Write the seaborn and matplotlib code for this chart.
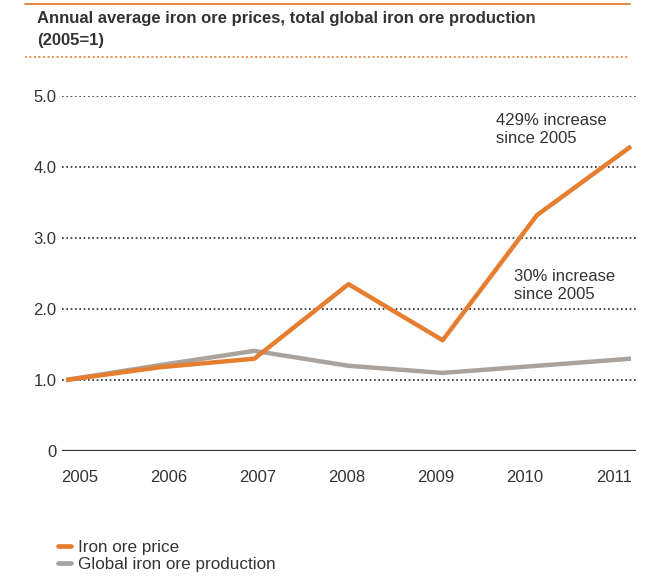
import matplotlib
matplotlib.use("Agg")
import matplotlib.pyplot as plt
import seaborn as sns
import pandas as pd
import numpy as np
from matplotlib.lines import Line2D

years = [2005, 2006, 2007, 2008, 2009, 2010, 2011]
iron_ore_price = [1.0, 1.18, 1.30, 2.35, 1.56, 3.32, 4.29]
global_production = [1.0, 1.21, 1.41, 1.20, 1.10, 1.20, 1.30]
y_ticks = [0, 1, 2, 3, 4, 5]
y_tick_labels = ["0", "1.0", "2.0", "3.0", "4.0", "5.0"]
series_names = ["Iron ore price", "Global iron ore production"]

ORANGE = "#E67E30"
GREY = "#A9A29D"
TEXT = "#333333"

sns.set_theme(style="white")
plt.rcParams["font.family"] = ["Liberation Sans", "DejaVu Sans"]

df = pd.DataFrame({
    "year": years * 2,
    "value": global_production + iron_ore_price,
    "series": [series_names[1]] * len(years) + [series_names[0]] * len(years),
})

fig = plt.figure(figsize=(6.58, 5.76), dpi=100)
ax = fig.add_axes([62 / 658, 1 - 451 / 576, (636 - 62) / 658, (451 - 96) / 576])

sns.lineplot(data=df, x="year", y="value", hue="series",
             palette={series_names[0]: ORANGE, series_names[1]: GREY},
             hue_order=[series_names[1], series_names[0]],
             linewidth=3.2, ax=ax, legend=False, solid_capstyle="butt")

x0, x1 = 2005 - 4 / 94.2, 2011 + 5 / 94.2
ax.set_xlim(x0, x1)
ax.set_ylim(0, 5)

for v in y_ticks[1:]:
    ax.axhline(v, color="#2b2b2b", linestyle=(0, (1, 1.6)), linewidth=1.2, zorder=0)
ax.axhline(0, color="#333333", linewidth=1.6, zorder=1)

for s in ax.spines.values():
    s.set_visible(False)

ax.set_yticks(y_ticks)
ax.set_yticklabels(y_tick_labels, fontsize=12, color=TEXT)
ax.tick_params(axis="y", length=0, pad=4)

tick_pos = np.linspace(2005.15, 2010.82, len(years))
ax.set_xticks(tick_pos)
ax.set_xticklabels([str(y) for y in years], fontsize=12, color=TEXT)
ax.tick_params(axis="x", length=0, pad=14)
ax.set_xlabel("")
ax.set_ylabel("")

ax.text(2009.57, 4.53, "429% increase\nsince 2005", fontsize=12, color=TEXT,
        va="center", ha="left", linespacing=1.25)
ax.text(2009.76, 2.33, "30% increase\nsince 2005", fontsize=12, color=TEXT,
        va="center", ha="left", linespacing=1.25)

# header rules and title
fig.add_artist(Line2D([25 / 658, 630 / 658], [1 - 4 / 576] * 2, color=ORANGE, linewidth=1.3))
fig.add_artist(Line2D([25 / 658, 630 / 658], [1 - 57 / 576] * 2, color=ORANGE,
                      linewidth=1.3, linestyle=(0, (1, 1.5))))
fig.text(37 / 658, 1 - 18 / 576, "Annual average iron ore prices, total global iron ore production",
         fontsize=12, fontweight="bold", color=TEXT, va="center", ha="left")
fig.text(37 / 658, 1 - 40 / 576, "(2005=1)",
         fontsize=12, fontweight="bold", color=TEXT, va="center", ha="left")

handles = [Line2D([], [], color=ORANGE, linewidth=3.4, solid_capstyle="round"),
           Line2D([], [], color=GREY, linewidth=3.4, solid_capstyle="round")]
fig.legend(handles, series_names, loc="upper left",
           bbox_to_anchor=(58 / 658, 1 - 540 / 576), frameon=False,
           fontsize=12.3, handlelength=0.75, handletextpad=0.45,
           labelspacing=0.12, borderpad=0, borderaxespad=0,
           labelcolor=TEXT)

fig.savefig("out.png", dpi=100)
